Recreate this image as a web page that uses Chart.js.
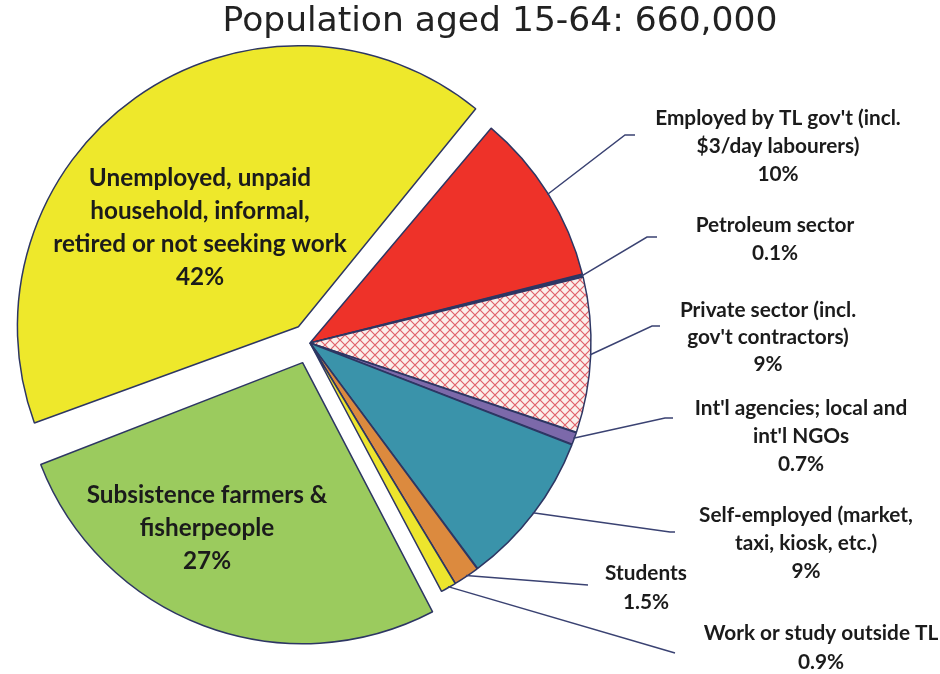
<!DOCTYPE html>
<html>
<head>
<meta charset="utf-8">
<title>Population aged 15-64</title>
<script src="https://cdn.jsdelivr.net/npm/chart.js@4.4.1/dist/chart.umd.min.js"></script>
<style>
  body { margin: 0; background: #fff; }
</style>
</head>
<body>
<canvas id="chart" width="940" height="674"></canvas>
<script>
'use strict';

const chartTitle = 'Population aged 15-64: 660,000';

// slices, clockwise from the red one
const categories = [
  'Employed by TL gov\'t',
  'Petroleum sector',
  'Private sector',
  'Int\'l agencies and NGOs',
  'Self-employed',
  'Students',
  'Work or study outside TL',
  'Subsistence farmers & fisherpeople',
  'Unemployed / not seeking work'
];
const shares = [10, 0.1, 9, 0.7, 9, 1.5, 0.9, 27, 42];
const shareLabels = ['10%', '0.1%', '9%', '0.7%', '9%', '1.5%', '0.9%', '27%', '42%'];
const labelLines = [
  ['Employed by TL gov\'t (incl.', '$3/day labourers)'],
  ['Petroleum sector'],
  ['Private sector (incl.', 'gov\'t contractors)'],
  ['Int\'l agencies; local and', 'int\'l NGOs'],
  ['Self-employed (market,', 'taxi, kiosk, etc.)'],
  ['Students'],
  ['Work or study outside TL'],
  ['Subsistence farmers &', 'fisherpeople'],
  ['Unemployed, unpaid', 'household, informal,', 'retired or not seeking work']
];

// where each text block goes (centre x, first line y) and its leader line
const labelSpots = [
  { x: 778, y: 118, lh: 28, elbow: [625, 135], end: [635, 135] },
  { x: 775, y: 225, lh: 28, elbow: [647, 237], end: [657, 237] },
  { x: 768, y: 310, lh: 27, elbow: [652, 326], end: [660, 326] },
  { x: 801, y: 408, lh: 28, elbow: [665, 418], end: [673, 418] },
  { x: 806, y: 515, lh: 28, elbow: [670, 532], end: [675, 532] },
  { x: 646, y: 573, lh: 29, elbow: [588, 585], end: [588, 585] },
  { x: 821, y: 633, lh: 29, elbow: [675, 653], end: [675, 653] },
  { x: 207, y: 495, lh: 33, inside: true },
  { x: 200, y: 178, lh: 33, inside: true }
];

const textColor = '#1b1b1b';
const lineColor = '#3a4272';
const edgeColor = '#2d3663';

function crossHatch() {
  const tile = document.createElement('canvas');
  tile.width = 10;
  tile.height = 10;
  const g = tile.getContext('2d');
  g.fillStyle = '#fbf0ec';
  g.fillRect(0, 0, 10, 10);
  g.strokeStyle = '#e0626a';
  g.lineWidth = 1.2;
  g.beginPath();
  g.moveTo(-1, -1); g.lineTo(11, 11);
  g.moveTo(11, -1); g.lineTo(-1, 11);
  g.stroke();
  return g.createPattern(tile, 'repeat');
}

// chart.js grows wide exploded arcs a little, keep them on the common radius
const keepRadius = {
  id: 'keepRadius',
  beforeDatasetsDraw(chart) {
    const meta = chart.getDatasetMeta(0);
    const baseR = meta.controller.outerRadius;
    meta.data.forEach(arc => {
      const off = (arc.options.offset || 0) / 4;
      const grow = off * (1 - Math.sin(Math.min(Math.PI, arc.circumference)));
      arc.outerRadius = baseR - grow;
    });
  }
};

const calloutLabels = {
  id: 'calloutLabels',
  afterDraw(chart) {
    const ctx = chart.ctx;
    const meta = chart.getDatasetMeta(0);
    const baseR = meta.controller.outerRadius;
    ctx.save();

    ctx.fillStyle = '#222';
    ctx.font = '34.5px "DejaVu Sans"';
    ctx.textAlign = 'center';
    ctx.textBaseline = 'middle';
    ctx.fillText(chartTitle, 500, 22);

    meta.data.forEach((arc, i) => {
      const spot = labelSpots[i];
      const lines = labelLines[i].concat(shareLabels[i]);

      if (!spot.inside) {
        const mid = (arc.startAngle + arc.endAngle) / 2;
        const r = baseR + (arc.options.offset || 0) / 4;
        ctx.strokeStyle = lineColor;
        ctx.lineWidth = 1.5;
        ctx.beginPath();
        ctx.moveTo(arc.x + Math.cos(mid) * r, arc.y + Math.sin(mid) * r);
        ctx.lineTo(spot.elbow[0], spot.elbow[1]);
        ctx.lineTo(spot.end[0], spot.end[1]);
        ctx.stroke();
      }

      ctx.fillStyle = textColor;
      ctx.font = spot.inside ? 'bold 24.3px Lato' : 'bold 20.8px Lato';
      lines.forEach((txt, k) => ctx.fillText(txt, spot.x, spot.y + k * spot.lh));
    });

    ctx.restore();
  }
};

function renderChart() {
  const sliceColors = [
    '#ee3229',
    '#33428a',
    crossHatch(),
    '#7c69aa',
    '#3a93aa',
    '#dc8a3e',
    '#ede52d',
    '#9bcb5e',
    '#eee82b'
  ];
  const sliceOffsets = [0, 0, 0, 0, 0, 0, 0, 84, 80];

  const ctx = document.getElementById('chart').getContext('2d');
  new Chart(ctx, {
    type: 'pie',
    data: {
      labels: categories,
      datasets: [{
        data: shares,
        backgroundColor: sliceColors,
        borderColor: edgeColor,
        borderWidth: 1.5,
        offset: sliceOffsets,
        hoverOffset: 0,
        spacing: 2,
        radius: 280
      }]
    },
    options: {
      responsive: false,
      animation: false,
      events: [],
      rotation: 40,
      layout: { padding: { left: 0, right: 320, top: 43, bottom: 31 } },
      plugins: {
        legend: { display: false },
        tooltip: { enabled: false },
        title: { display: false }
      }
    },
    plugins: [keepRadius, calloutLabels]
  });
}

document.addEventListener('DOMContentLoaded', () => {
  Promise.all([
    document.fonts.load('bold 20px Lato'),
    document.fonts.load('34px "DejaVu Sans"')
  ]).then(renderChart, renderChart);
});
</script>
</body>
</html>
